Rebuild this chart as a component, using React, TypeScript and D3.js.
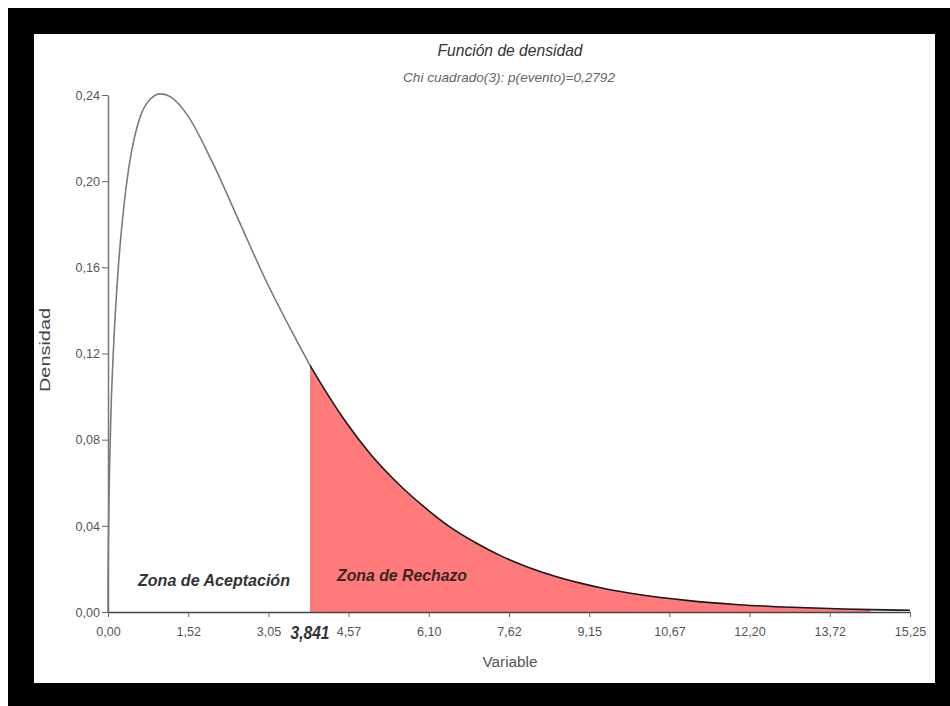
import React, { useEffect, useRef } from "react";
import * as d3 from "d3";

// values (chi cuadrado, 3 g.l.)
const densityX = [0.002, 0.05, 0.1, 0.2, 0.3, 0.4, 0.5, 0.6, 0.8, 1.0, 1.2, 1.5, 2.0, 2.5, 3.0, 3.5, 3.841,
  4.0, 4.5, 5.0, 5.5, 6.0, 6.5, 7.0, 7.5, 8.0, 8.5, 9.0, 9.5, 10.0, 11.0, 12.0, 13.0, 14.0, 14.5, 15.25];
const densityY = [0.018, 0.087, 0.12, 0.161, 0.188, 0.207, 0.22, 0.229, 0.238, 0.2405, 0.239, 0.231, 0.208, 0.181, 0.154, 0.13, 0.1145,
  0.108, 0.089, 0.073, 0.06, 0.049, 0.0395, 0.032, 0.0257, 0.0207, 0.0166, 0.0133, 0.0106, 0.0085, 0.0054, 0.0034, 0.0022, 0.0014, 0.0011, 0.0008];

const xTicks = [0, 1.525, 3.05, 4.575, 6.1, 7.625, 9.15, 10.675, 12.2, 13.725, 15.25];
const xTickLabels = ["0,00", "1,52", "3,05", "4,57", "6,10", "7,62", "9,15", "10,67", "12,20", "13,72", "15,25"];
const yTicks = [0, 0.04, 0.08, 0.12, 0.16, 0.2, 0.24];
const yTickLabels = ["0,00", "0,04", "0,08", "0,12", "0,16", "0,20", "0,24"];

const critical = 3.841;
const fillEnd = 14.5;

const narrow = "'Liberation Sans Narrow', 'Arial Narrow', 'Liberation Sans', sans-serif";

// the reference uses a condensed face, so squeeze labels to its widths
const labelWidth = (s: string) => s.replace(/,/g, "").length * 7 + 3.5;

export default function App() {
  const ref = useRef<SVGSVGElement>(null);

  useEffect(() => {
    const svg = d3.select(ref.current);
    svg.selectAll("*").remove();

    const W = 950, H = 706;
    const x = d3.scaleLinear().domain([0, 15.25]).range([108, 910]);
    const y = d3.scaleLinear().domain([0, 0.24]).range([612, 95]);
    const pts = densityX.map((v, i) => ({ x: v, y: densityY[i] }));

    // frame
    svg.append("rect").attr("width", W).attr("height", H).attr("fill", "#fff");
    svg.append("rect").attr("x", 8).attr("y", 8).attr("width", W - 8).attr("height", H - 8).attr("fill", "#000");
    svg.append("rect").attr("x", 34).attr("y", 34).attr("width", 901).attr("height", 649).attr("fill", "#fff");

    // rejection area
    const tail = pts.filter(p => p.x >= critical && p.x <= fillEnd);
    const area = d3.area<{ x: number; y: number }>().x(d => x(d.x)).y0(y(0)).y1(d => y(d.y));
    svg.append("path").datum(tail).attr("d", area).attr("fill", "#ff7b7b");

    const line = d3.line<{ x: number; y: number }>().x(d => x(d.x)).y(d => y(d.y)).curve(d3.curveMonotoneX);
    svg.append("path").datum([{ x: 0, y: 0 }, ...pts.filter(p => p.x <= critical)]).attr("d", line)
      .attr("fill", "none").attr("stroke", "#7a7a7a").attr("stroke-width", 1.6);
    svg.append("path").datum(pts.filter(p => p.x >= critical)).attr("d", line)
      .attr("fill", "none").attr("stroke", "#1a1a1a").attr("stroke-width", 1.6);

    // axes
    const xAxis = d3.axisBottom(x).tickValues(xTicks).tickSize(5).tickSizeOuter(0)
      .tickFormat((_d, i) => xTickLabels[i]);
    const gx = svg.append("g").attr("transform", `translate(0,${y(0)})`).call(xAxis);
    gx.select(".domain").attr("stroke", "#444").attr("stroke-width", 1.5);
    gx.selectAll(".tick line").attr("stroke", "#666");
    gx.selectAll<SVGTextElement, number>(".tick text").attr("font-family", narrow).attr("font-size", 13)
      .attr("fill", "#555").attr("dy", "1.25em")
      .attr("textLength", (_d, i) => labelWidth(xTickLabels[i])).attr("lengthAdjust", "spacingAndGlyphs");

    const yAxis = d3.axisLeft(y).tickValues(yTicks).tickSize(6).tickSizeOuter(0)
      .tickFormat((_d, i) => yTickLabels[i]);
    const gy = svg.append("g").attr("transform", `translate(${x(0)},0)`).call(yAxis);
    gy.select(".domain").attr("stroke", "#777").attr("stroke-width", 1.5);
    gy.selectAll(".tick line").attr("stroke", "#666");
    gy.selectAll<SVGTextElement, number>(".tick text").attr("font-family", narrow).attr("font-size", 13)
      .attr("fill", "#555").attr("x", -8)
      .attr("textLength", (_d, i) => labelWidth(yTickLabels[i])).attr("lengthAdjust", "spacingAndGlyphs");

    // titles
    svg.append("text").attr("x", 510).attr("y", 56).attr("text-anchor", "middle")
      .attr("font-family", narrow).attr("font-size", 17).attr("font-style", "italic").attr("fill", "#333")
      .attr("textLength", 145).attr("lengthAdjust", "spacingAndGlyphs").text("Función de densidad");
    svg.append("text").attr("x", 509).attr("y", 82).attr("text-anchor", "middle")
      .attr("font-family", narrow).attr("font-size", 13).attr("font-style", "italic").attr("fill", "#666")
      .attr("textLength", 212).attr("lengthAdjust", "spacingAndGlyphs").text("Chi cuadrado(3): p(evento)=0,2792");

    svg.append("text").attr("x", 510).attr("y", 667).attr("text-anchor", "middle")
      .attr("font-family", narrow).attr("font-size", 14).attr("fill", "#555")
      .attr("textLength", 55).attr("lengthAdjust", "spacingAndGlyphs").text("Variable");
    svg.append("text").attr("transform", "translate(50,350) rotate(-90)").attr("text-anchor", "middle")
      .attr("font-family", "'Liberation Sans', sans-serif").attr("font-size", 14).attr("fill", "#444")
      .attr("textLength", 84).attr("lengthAdjust", "spacingAndGlyphs").text("Densidad");

    // zone labels
    svg.append("text").attr("x", 214).attr("y", 586).attr("text-anchor", "middle")
      .attr("font-family", narrow).attr("font-size", 17).attr("font-style", "italic").attr("font-weight", "bold")
      .attr("fill", "#333").attr("textLength", 152).attr("lengthAdjust", "spacingAndGlyphs").text("Zona de Aceptación");
    svg.append("text").attr("x", 402).attr("y", 581).attr("text-anchor", "middle")
      .attr("font-family", narrow).attr("font-size", 17).attr("font-style", "italic").attr("font-weight", "bold")
      .attr("fill", "#3a2525").attr("textLength", 130).attr("lengthAdjust", "spacingAndGlyphs").text("Zona de Rechazo");

    svg.append("text").attr("x", x(critical)).attr("y", 639).attr("text-anchor", "middle")
      .attr("font-family", narrow).attr("font-size", 18).attr("font-style", "italic").attr("font-weight", "bold")
      .attr("fill", "#333").attr("textLength", 39).attr("lengthAdjust", "spacingAndGlyphs").text("3,841");
  }, []);

  return (
    <div style={{ position: "fixed", left: 0, top: 0 }}>
      <svg ref={ref} width={950} height={706} style={{ display: "block" }} />
    </div>
  );
}
